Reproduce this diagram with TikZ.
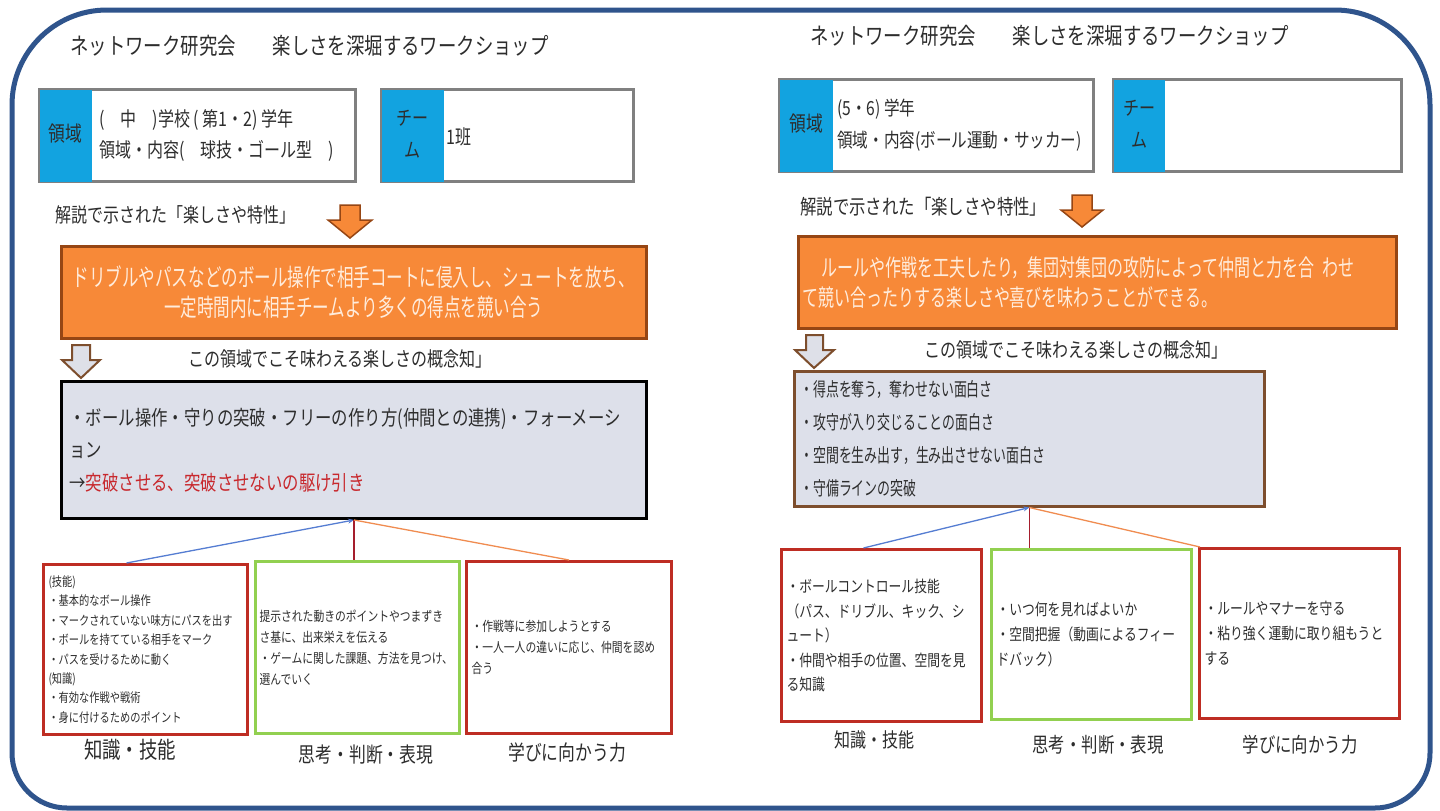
\documentclass[tikz,border=0pt]{standalone}
\usepackage{fontspec}
\usetikzlibrary{arrows.meta}
\newfontfamily\jpn[FakeStretch=0.8]{Noto Sans CJK JP}
\newfontfamily\jpnn[FakeStretch=0.68]{Noto Sans CJK JP}
\definecolor{framec}{RGB}{47,84,140}
\definecolor{hdrblue}{RGB}{18,163,224}
\definecolor{hdrgray}{RGB}{128,128,128}
\definecolor{orng}{RGB}{247,137,56}
\definecolor{orngdark}{RGB}{150,70,20}
\definecolor{grayfill}{RGB}{221,224,234}
\definecolor{brownb}{RGB}{125,78,45}
\definecolor{redb}{RGB}{190,45,35}
\definecolor{greenb}{RGB}{146,208,80}
\definecolor{ink}{RGB}{45,45,45}
\definecolor{redtxt}{RGB}{200,40,45}
\definecolor{orngtxt}{RGB}{255,236,220}
\definecolor{lnblue}{RGB}{85,125,210}
\definecolor{lnred}{RGB}{165,30,45}
\definecolor{lnorange}{RGB}{240,140,80}
\definecolor{hollowfill}{RGB}{222,224,232}
\tikzset{
  txt/.style={inner sep=0, text=ink, anchor=west},
  hdrbox/.style={draw=hdrgray, line width=3, fill=white, minimum height=92, anchor=north west, inner sep=0},
  orngbox/.style={draw=orngdark, line width=2.5, fill=orng, minimum height=92, anchor=north west, text=orngtxt},
  graybox/.style={fill=grayfill, minimum height=137, anchor=north west, text=ink, align=left},
  smallbox/.style={line width=3, fill=white, anchor=north west, text=ink, align=left, inner xsep=5},
  redbox/.style={smallbox, draw=redb},
  greenbox/.style={smallbox, draw=greenb},
  orngarrow/.style={fill=orng, draw=orngdark, line width=1.5},
  hollowarrow/.style={fill=hollowfill, draw=brownb, line width=2},
  conn/.style={line width=1.3},
  lbl/.style={inner sep=0, text=ink}
}
\begin{document}
\begin{tikzpicture}[x=1pt,y=-1pt]
\useasboundingbox (0,0) rectangle (1440,811);
\fill[white] (0,0) rectangle (1440,811);
% frame
\draw[framec, line width=5] (720,808) [rounded corners=55] -| (12,450) [rounded corners=95] |- (720,10) -| (1430,450) [rounded corners=55] |- (720,808);

% ================= LEFT PANEL =================
\node[txt, font={\jpn\fontsize{23}{27}\selectfont}] (tl) at (70,46) {ネットワーク研究会　　楽しさを深堀するワークショップ};

\node[hdrbox, minimum width=316] (hl) at (38,88) {};
\fill[hdrblue] ([shift={(1.5,1.5)}]hl.north west) rectangle ([shift={(54,-1.5)}]hl.south west);
\node[lbl, font={\jpn\fontsize{21}{24}\selectfont}] (hlk) at (65,134) {領域};
\node[txt, align=left, font={\jpn\fontsize{20}{31}\selectfont}] (hlt) at (99,136) {(　中　)学校 ( 第1・2) 学年\\領域・内容(　球技・ゴール型　)};

\node[hdrbox, minimum width=252] (ht) at (380,88) {};
\fill[hdrblue] ([shift={(1.5,1.5)}]ht.north west) rectangle ([shift={(64,-1.5)}]ht.south west);
\node[lbl, align=center, font={\jpn\fontsize{20}{32}\selectfont}] (htk) at (412,134) {チー\\ム};
\node[txt, font={\jpn\fontsize{20}{24}\selectfont}] (htt) at (446,137) {1班};

\node[txt, font={\jpn\fontsize{20}{24}\selectfont}] (el) at (55,215) {解説で示された「楽しさや特性」};
\filldraw[orngarrow] (340,205) -- (360,205) -- (360,220) -- (372,220) -- (350,238) -- (328,220) -- (340,220) -- cycle;

\node[orngbox, minimum width=585, align=center, font={\jpnn\fontsize{24.3}{30}\selectfont}] (ol) at (60,245) {ドリブルやパスなどのボール操作で相手コートに侵入し、シュートを放ち、\\一定時間内に相手チームより多くの得点を競い合う};

\filldraw[hollowarrow] (72,345) -- (90,345) -- (90,360) -- (100,360) -- (81,378) -- (62,360) -- (72,360) -- cycle;
\node[lbl, font={\jpn\fontsize{20}{24}\selectfont}] (cl) at (340,359) {この領域でこそ味わえる楽しさの概念知」};

\node[graybox, draw=black, line width=3, minimum width=585, text width=569, inner xsep=8, font={\jpn\fontsize{20.5}{32.5}\selectfont}] (gl) at (60,380) {・ボール操作・守りの突破・フリーの作り方(仲間との連携)・フォーメーシ\\ョン\\→{\color{redtxt}突破させる、突破させないの駆け引き}};

\node[redbox, minimum width=204, minimum height=170, text width=194, font={\jpn\fontsize{12.8}{19.4}\selectfont}] (kl) at (42,563) {(技能)\\・基本的なボール操作\\・マークされていない味方にパスを出す\\・ボールを持てている相手をマーク\\・パスを受けるために動く\\(知識)\\・有効な作戦や戦術\\・身に付けるためのポイント};
\node[greenbox, minimum width=204, minimum height=172, text width=196, inner xsep=4, font={\jpn\fontsize{13.5}{21}\selectfont}] (sl) at (254,560) {提示された動きのポイントやつまずき\\さ基に、出来栄えを伝える\\・ゲームに関した課題、方法を見つけ、\\選んでいく};
\node[redbox, minimum width=205, minimum height=172, text width=195, font={\jpn\fontsize{13.5}{21}\selectfont}] (ml) at (465,560) {・作戦等に参加しようとする\\・一人一人の違いに応じ、仲間を認め\\合う};

\draw[conn, lnblue, -{Stealth[length=6,width=5]}] ([shift={(-19,0)}]kl.north) -- (gl.south);
\draw[conn, lnred] (gl.south) -- (gl.south |- sl.north);
\draw[conn, lnorange] (ml.north) -- (gl.south);

\node[lbl, font={\jpn\fontsize{23}{27}\selectfont}] (kll) at (130,750) {知識・技能};
\node[lbl, font={\jpn\fontsize{21}{25}\selectfont}] (sll) at (366,755) {思考・判断・表現};
\node[lbl, font={\jpn\fontsize{21}{25}\selectfont}] (mll) at (567,752) {学びに向かう力};

% ================= RIGHT PANEL =================
\node[txt, font={\jpn\fontsize{23}{27}\selectfont}] (tr) at (810,36) {ネットワーク研究会　　楽しさを深堀するワークショップ};

\node[hdrbox, minimum width=314] (hr) at (778,78) {};
\fill[hdrblue] ([shift={(1.5,1.5)}]hr.north west) rectangle ([shift={(55,-1.5)}]hr.south west);
\node[lbl, font={\jpn\fontsize{21}{24}\selectfont}] (hrk) at (806,124) {領域};
\node[txt, align=left, font={\jpn\fontsize{19.5}{32}\selectfont}] (hrt) at (837,125) {(5・6) 学年\\領域・内容(ボール運動・サッカー)};

\node[hdrbox, minimum width=288] (tt) at (1112,78) {};
\fill[hdrblue] ([shift={(1.5,1.5)}]tt.north west) rectangle ([shift={(53,-1.5)}]tt.south west);
\node[lbl, align=center, font={\jpn\fontsize{20}{32}\selectfont}] (ttk) at (1139,124) {チー\\ム};

\node[txt, font={\jpn\fontsize{20.5}{24}\selectfont}] (er) at (800,207) {解説で示された「楽しさや特性」};
\filldraw[orngarrow] (1072,195) -- (1092,195) -- (1092,210) -- (1103,210) -- (1082,227) -- (1061,210) -- (1072,210) -- cycle;

\node[orngbox, minimum width=598, align=left, text width=590, inner xsep=4, font={\jpnn\fontsize{23.5}{30}\selectfont}] (or) at (797,235) {\hspace*{19pt}ルールや作戦を工夫したり，集団対集団の攻防によって仲間と力を合 わせ\\て競い合ったりする楽しさや喜びを味わうことができる。};

\filldraw[hollowarrow] (806,335) -- (823,335) -- (823,350) -- (834,350) -- (814,368) -- (795,350) -- (806,350) -- cycle;
\node[lbl, font={\jpn\fontsize{20}{24}\selectfont}] (cr) at (1076,350) {この領域でこそ味わえる楽しさの概念知」};

\node[graybox, draw=brownb, line width=2.5, minimum width=470, minimum height=135, text width=458, inner xsep=6, font={\jpnn\fontsize{19}{32.7}\selectfont}] (gr) at (793,370) {・得点を奪う，奪わせない面白さ\\・攻守が入り交じることの面白さ\\・空間を生み出す，生み出させない面白さ\\・守備ラインの突破};

\node[redbox, minimum width=200, minimum height=172, text width=190, font={\jpn\fontsize{16}{24.5}\selectfont}] (kr) at (780,548) {・ボールコントロール技能\\（パス、ドリブル、キック、シ\\ュート）\\・仲間や相手の位置、空間を見\\る知識};
\node[greenbox, minimum width=200, minimum height=170, text width=190, font={\jpn\fontsize{16}{25}\selectfont}] (sr) at (990,548) {・いつ何を見ればよいか\\・空間把握（動画によるフィー\\ドバック）};
\node[redbox, minimum width=200, minimum height=170, text width=190, font={\jpn\fontsize{16}{25}\selectfont}] (mr) at (1198,547) {・ルールやマナーを守る\\・粘り強く運動に取り組もうと\\する};

\draw[conn, lnblue, -{Stealth[length=6,width=5]}] ([shift={(-18,0)}]kr.north) -- (gr.south);
\draw[conn, lnred] (gr.south) -- (gr.south |- sr.north);
\draw[conn, lnorange] ([shift={(2,0)}]mr.north west) -- (gr.south);

\node[lbl, font={\jpn\fontsize{20}{24}\selectfont}] (krl) at (874,740) {知識・技能};
\node[lbl, font={\jpn\fontsize{20.5}{24}\selectfont}] (srl) at (1098,745) {思考・判断・表現};
\node[lbl, font={\jpn\fontsize{20.5}{24}\selectfont}] (mrl) at (1300,745) {学びに向かう力};
\end{tikzpicture}
\end{document}
